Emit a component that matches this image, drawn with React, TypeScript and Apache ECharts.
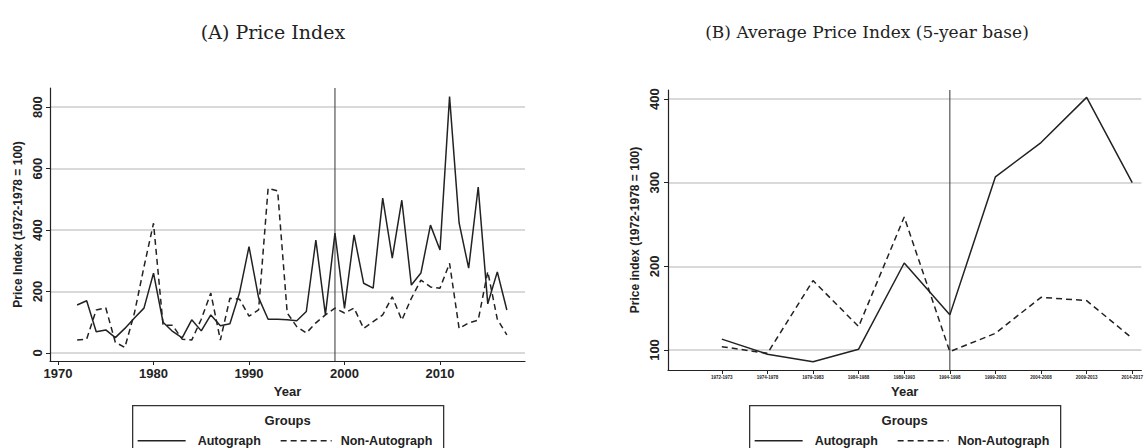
import React, { useEffect, useRef } from "react";
import * as echarts from "echarts";

const years = [1972, 1973, 1974, 1975, 1976, 1977, 1978, 1979, 1980, 1981, 1982, 1983, 1984, 1985, 1986, 1987, 1988, 1989, 1990, 1991, 1992, 1993, 1994, 1995, 1996, 1997, 1998, 1999, 2000, 2001, 2002, 2003, 2004, 2005, 2006, 2007, 2008, 2009, 2010, 2011, 2012, 2013, 2014, 2015, 2016, 2017];
const autographA = [156, 170, 69, 75, 50, 80, 114, 146, 260, 100, 70, 49, 108, 72, 124, 89, 95, 195, 346, 180, 110, 110, 108, 105, 135, 367, 125, 390, 145, 384, 227, 211, 504, 309, 497, 221, 260, 416, 335, 834, 423, 276, 540, 160, 264, 140];
const nonAutographA = [42, 45, 140, 147, 35, 18, 130, 280, 422, 91, 90, 45, 42, 110, 195, 42, 178, 175, 120, 140, 536, 527, 130, 86, 65, 98, 124, 146, 130, 146, 80, 102, 124, 183, 107, 178, 237, 215, 211, 292, 80, 98, 107, 265, 110, 59];

const periods = ["1972-1973", "1974-1978", "1979-1983", "1984-1988", "1989-1993", "1994-1998", "1999-2003", "2004-2008", "2009-2013", "2014-2017"];
const autographB = [113, 95, 86, 101, 204, 142, 307, 348, 402, 300];
const nonAutographB = [104, 96, 183, 128, 259, 98, 120, 163, 159, 114];

const yTicksA = [0, 200, 400, 600, 800];
const xTicksA = [1970, 1980, 1990, 2000, 2010];
const yTicksB = [100, 200, 300, 400];
const breakYear = 1999;
const breakPeriodIndex = 5;

const LINE = "#222";
const GRID = "#cccccc";
const FONT = "Liberation Sans";

const rangeA = { xMin: 1969.16, xMax: 2018.9, yMin: -26, yMax: 862 };
const rangeB = { xMin: -1.18, xMax: 9.2, yMin: 76.1, yMax: 410.8 };

export default function App() {
  const ref = useRef<HTMLDivElement>(null);
  useEffect(() => {
    if (!ref.current) return;
    const chart = echarts.init(ref.current, undefined, { renderer: "svg" });
    const axisLine = { show: true, onZero: false, lineStyle: { color: LINE, width: 1.2 } };
    const labelStyle = { color: "#222", fontFamily: FONT, fontSize: 13, fontWeight: "bold" as const };
    const vLine = (xi: number, x: number, r: typeof rangeA) => ({
      type: "line",
      xAxisIndex: xi,
      yAxisIndex: xi,
      data: [[x, r.yMin], [x, r.yMax]],
      z: 2,
      silent: true,
      symbol: "none",
      lineStyle: { color: "#555", width: 1.2, type: "solid" },
    });
    const lineSeries = (xi: number, data: number[][], dashed: boolean, name: string) => ({
      type: "line",
      name,
      xAxisIndex: xi,
      yAxisIndex: xi,
      data,
      z: 3,
      symbol: "none",
      lineStyle: { color: LINE, width: 1.5, type: dashed ? [6, 4] : "solid" },
    });
    const splitLine = { show: true, lineStyle: { color: GRID, width: 1.5, type: "solid" } };
    const dataA1 = years.map((y, i) => [y, autographA[i]]);
    const dataA2 = years.map((y, i) => [y, nonAutographA[i]]);
    const dataB1 = periods.map((_, i) => [i, autographB[i]]);
    const dataB2 = periods.map((_, i) => [i, nonAutographB[i]]);
    chart.setOption({
      animation: false,
      backgroundColor: "#fff",
      title: [
        { text: "(A) Price Index", left: 268, top: 17, textAlign: "center", textStyle: { fontFamily: "DejaVu Serif", fontSize: 19, fontWeight: "normal", color: "#222" } },
        { text: "(B) Average Price Index (5-year base)", left: 862, top: 18, textAlign: "center", textStyle: { fontFamily: "DejaVu Serif", fontSize: 17, fontWeight: "normal", color: "#222" } },
      ],
      grid: [
        { left: 50, top: 88, width: 475, height: 273 },
        { left: 668, top: 90, width: 475, height: 280 },
      ],
      xAxis: [
        {
          type: "value", gridIndex: 0, min: rangeA.xMin, max: rangeA.xMax,
          name: "Year", nameLocation: "middle", nameGap: 22,
          nameTextStyle: { ...labelStyle, fontSize: 13 },
          axisLine, splitLine: { show: false },
          axisTick: { show: true, length: 4, lineStyle: { color: LINE }, customValues: xTicksA },
          axisLabel: { ...labelStyle, margin: 6, customValues: xTicksA, formatter: (v: number) => String(v) },
        },
        {
          type: "value", gridIndex: 1, min: rangeB.xMin, max: rangeB.xMax,
          name: "Year", nameLocation: "middle", nameGap: 14,
          nameTextStyle: { ...labelStyle, fontSize: 13 },
          axisLine, splitLine: { show: false },
          axisTick: { show: true, length: 4, lineStyle: { color: LINE }, customValues: periods.map((_, i) => i) },
          axisLabel: { ...labelStyle, fontSize: 4.5, margin: 5, customValues: periods.map((_, i) => i), formatter: (v: number) => periods[Math.round(v)] ?? "" },
        },
      ],
      yAxis: [
        {
          type: "value", gridIndex: 0, min: rangeA.yMin, max: rangeA.yMax,
          name: "Price Index (1972-1978 = 100)", nameLocation: "middle", nameGap: 26,
          nameTextStyle: { ...labelStyle, fontSize: 12 },
          axisLine, splitLine,
          axisTick: { show: true, length: 4, lineStyle: { color: LINE }, customValues: yTicksA },
          axisLabel: { ...labelStyle, rotate: 90, margin: 6, customValues: yTicksA },
        },
        {
          type: "value", gridIndex: 1, min: rangeB.yMin, max: rangeB.yMax,
          name: "Price index (1972-1978 = 100)", nameLocation: "middle", nameGap: 27,
          nameTextStyle: { ...labelStyle, fontSize: 12 },
          axisLine, splitLine,
          axisTick: { show: true, length: 4, lineStyle: { color: LINE }, customValues: yTicksB },
          axisLabel: { ...labelStyle, rotate: 90, margin: 7, customValues: yTicksB },
        },
      ],
      series: [
        vLine(0, breakYear, rangeA),
        vLine(1, breakPeriodIndex, rangeB),
        lineSeries(0, dataA1, false, "Autograph"),
        lineSeries(0, dataA2, true, "Non-Autograph"),
        lineSeries(1, dataB1, false, "Autograph"),
        lineSeries(1, dataB2, true, "Non-Autograph"),
      ],
      graphic: [132, 749].map((x0) => ({
        type: "group",
        left: x0,
        top: 405,
        children: [
          { type: "rect", shape: { x: 0, y: 0, width: 311, height: 50 }, style: { fill: "#fff", stroke: "#333", lineWidth: 1.3 } },
          { type: "text", x: 155, y: 15, style: { text: "Groups", fontFamily: FONT, fontSize: 13, fontWeight: "bold", fill: "#222", align: "center", verticalAlign: "middle" } },
          { type: "line", shape: { x1: 5, y1: 35, x2: 53, y2: 35 }, style: { stroke: LINE, lineWidth: 1.5 } },
          { type: "text", x: 65, y: 35, style: { text: "Autograph", fontFamily: FONT, fontSize: 12.5, fontWeight: "bold", fill: "#222", verticalAlign: "middle" } },
          { type: "line", shape: { x1: 148, y1: 35, x2: 199, y2: 35 }, style: { stroke: LINE, lineWidth: 1.5, lineDash: [6, 4] } },
          { type: "text", x: 208, y: 35, style: { text: "Non-Autograph", fontFamily: FONT, fontSize: 12.5, fontWeight: "bold", fill: "#222", verticalAlign: "middle" } },
        ],
      })),
    });
    return () => chart.dispose();
  }, []);
  return <div ref={ref} style={{ position: "absolute", left: 0, top: 0, width: 1146, height: 448 }} />;
}
